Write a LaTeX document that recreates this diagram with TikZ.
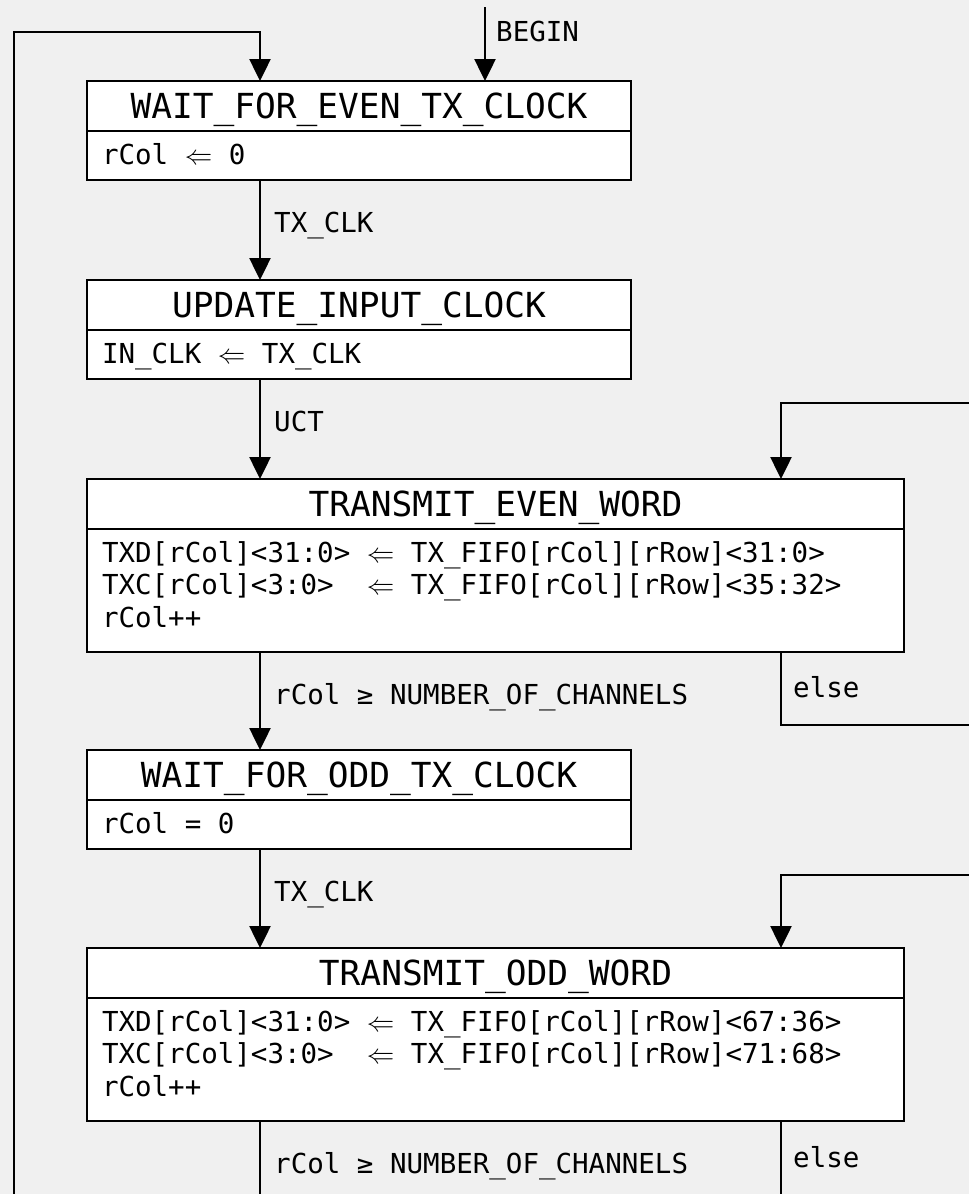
\documentclass[tikz,border=0pt]{standalone}
\usepackage{fix-cm}
\usepackage{fontspec}
\setmonofont{DejaVu Sans Mono}
\usetikzlibrary{arrows.meta}
\definecolor{bggray}{RGB}{240,240,240}
% one column of the mono font, and the assignment arrow between two of them
\newcommand{\blank}{\hspace{0.602em}}
\newcommand{\assign}{\blank$\Leftarrow$\blank}

\begin{document}
\begin{tikzpicture}[x=1pt, y=-1pt,
	statehead/.style={draw, fill=white, line width=2.6pt, outer sep=0pt, anchor=north west,
		minimum height=50pt, inner sep=0pt, text height=25pt, text depth=0pt,
		font=\fontsize{34.5}{40}\selectfont\ttfamily},
	statebody/.style={draw, fill=white, line width=2.6pt, outer sep=0pt, anchor=north west,
		inner xsep=15pt, inner ysep=13pt, align=left, text height=20pt, text depth=3pt,
		font=\fontsize{27.5}{32.5}\selectfont\ttfamily},
	bigbody/.style={statebody, text depth=77pt},
	guard/.style={anchor=west, inner sep=0pt, text height=20pt, text depth=0pt,
		font=\fontsize{27.5}{32.5}\selectfont\ttfamily},
	flow/.style={line width=2.5pt, -{Triangle[width=21pt, length=22pt]}}]
	\useasboundingbox (0,0) rectangle (969,1194);
	\clip (0,0) rectangle (969,1194);
	\fill[bggray] (0,0) rectangle (969,1194);

	% columns of the transitions
	\coordinate (mainx) at (260,0);
	\coordinate (elsex) at (781,0);
	\coordinate (beginx) at (485,0);
	\coordinate (start) at (485,7);
	\coordinate (backcorner) at (14,32);

	% states
	\node[statehead, minimum width=544pt] (evenwait) at (87,81) {WAIT\_FOR\_EVEN\_TX\_CLOCK};
	\node[statebody, text width=514pt] (evenwait-body) at (evenwait.south west) {rCol\assign 0};

	\node[statehead, minimum width=544pt] (updclk) at (87,280) {UPDATE\_INPUT\_CLOCK};
	\node[statebody, text width=514pt] (updclk-body) at (updclk.south west) {IN\_CLK\assign TX\_CLK};

	\node[statehead, minimum width=817pt] (eventx) at (87,479) {TRANSMIT\_EVEN\_WORD};
	\node[bigbody, text width=787pt] (eventx-body) at (eventx.south west)
		{TXD[rCol]<31:0>\assign TX\_FIFO[rCol][rRow]<31:0>\\
		TXC[rCol]<3:0>\blank\assign TX\_FIFO[rCol][rRow]<35:32>\\
		rCol++};

	\node[statehead, minimum width=544pt] (oddwait) at (87,750) {WAIT\_FOR\_ODD\_TX\_CLOCK};
	\node[statebody, text width=514pt] (oddwait-body) at (oddwait.south west) {rCol\blank=\blank0};

	\node[statehead, minimum width=817pt] (oddtx) at (87,948) {TRANSMIT\_ODD\_WORD};
	\node[bigbody, text width=787pt] (oddtx-body) at (oddtx.south west)
		{TXD[rCol]<31:0>\assign TX\_FIFO[rCol][rRow]<67:36>\\
		TXC[rCol]<3:0>\blank\assign TX\_FIFO[rCol][rRow]<71:68>\\
		rCol++};

	% transitions
	\draw[flow] (start) -- (evenwait.north -| beginx);
	\node[guard] (lbegin) at (496,31) {BEGIN};

	\draw[flow] (evenwait-body.south -| mainx) -- (updclk.north -| mainx);
	\node[guard] (lclkeven) at (274,222) {TX\_CLK};

	\draw[flow] (updclk-body.south -| mainx) -- (eventx.north -| mainx);
	\node[guard] (luct) at (274,421) {UCT};

	\draw[flow] (eventx-body.south -| mainx) -- (oddwait.north -| mainx);
	\node[guard] (ldoneeven) at (274,694) {rCol\blank≥\blank NUMBER\_OF\_CHANNELS};
	\draw[flow] (eventx-body.south -| elsex) -- ++(0,73) -| ++(220,-322) -| (eventx.north -| elsex);
	\node[guard] (lelseeven) at (793,687) {else};

	\draw[flow] (oddwait-body.south -| mainx) -- (oddtx.north -| mainx);
	\node[guard] (lclkodd) at (274,891) {TX\_CLK};

	\draw[flow] (oddtx-body.south -| mainx) -- ++(0,110) -| (backcorner) -| (evenwait.north -| mainx);
	\node[guard] (ldoneodd) at (274,1163) {rCol\blank≥\blank NUMBER\_OF\_CHANNELS};
	\draw[flow] (oddtx-body.south -| elsex) -- ++(0,100) -| ++(220,-346) -| (oddtx.north -| elsex);
	\node[guard] (lelseodd) at (793,1157) {else};

\end{tikzpicture}
\end{document}
